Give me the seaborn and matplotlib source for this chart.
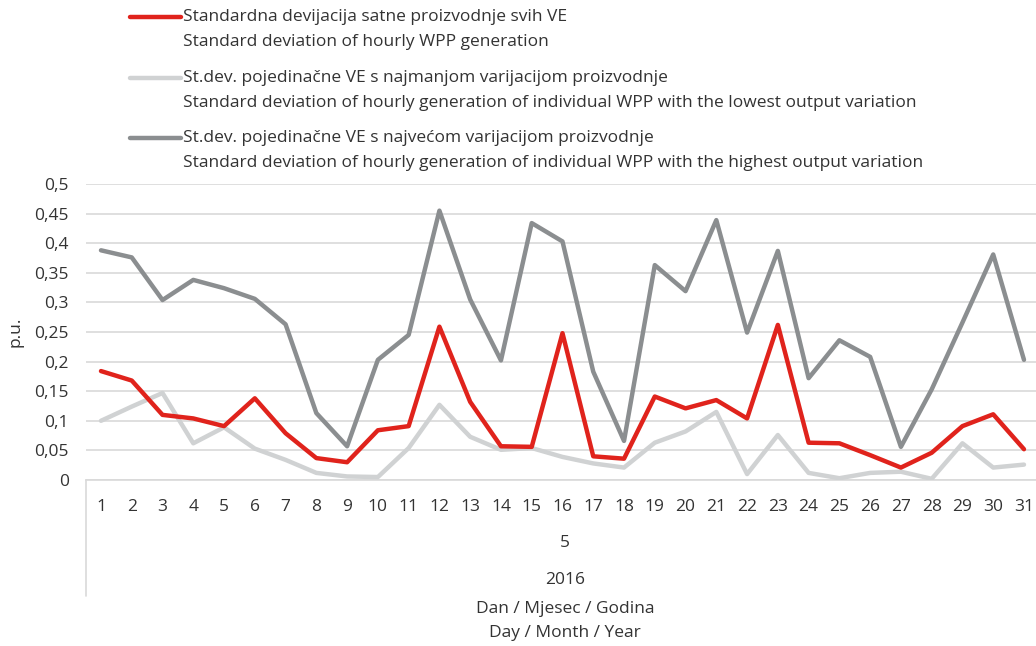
import matplotlib
matplotlib.use("Agg")
import matplotlib.pyplot as plt
from matplotlib import font_manager
from matplotlib.lines import Line2D
import seaborn as sns
import pandas as pd

days = list(range(1, 32))
all_wpp = [0.184, 0.168, 0.110, 0.104, 0.091, 0.138, 0.079, 0.037, 0.030, 0.084,
           0.091, 0.259, 0.132, 0.057, 0.056, 0.248, 0.040, 0.036, 0.141, 0.121,
           0.135, 0.104, 0.262, 0.063, 0.062, 0.042, 0.021, 0.046, 0.091, 0.111, 0.052]
lowest = [0.100, 0.124, 0.147, 0.062, 0.089, 0.053, 0.034, 0.012, 0.006, 0.005,
          0.054, 0.127, 0.073, 0.051, 0.054, 0.039, 0.028, 0.021, 0.063, 0.082,
          0.115, 0.010, 0.076, 0.012, 0.003, 0.012, 0.014, 0.002, 0.062, 0.021, 0.026]
highest = [0.388, 0.376, 0.304, 0.338, 0.324, 0.306, 0.263, 0.113, 0.057, 0.203,
           0.245, 0.455, 0.305, 0.202, 0.434, 0.403, 0.183, 0.066, 0.363, 0.319,
           0.439, 0.249, 0.387, 0.172, 0.236, 0.208, 0.056, 0.153, 0.266, 0.381, 0.203]
yticks = [0, 0.05, 0.1, 0.15, 0.2, 0.25, 0.3, 0.35, 0.4, 0.45, 0.5]
ytick_labels = ["0", "0,05", "0,1", "0,15", "0,2", "0,25", "0,3", "0,35", "0,4", "0,45", "0,5"]
labels = [
    ("Standardna devijacija satne proizvodnje svih VE",
     "Standard deviation of hourly WPP generation"),
    ("St.dev. pojedinačne VE s najmanjom varijacijom proizvodnje",
     "Standard deviation of hourly generation of individual WPP with the lowest output variation"),
    ("St.dev. pojedinačne VE s najvećom varijacijom proizvodnje",
     "Standard deviation of hourly generation of individual WPP with the highest output variation"),
]
month_label = "5"
year_label = "2016"
axis_title = ["Dan / Mjesec / Godina", "Day / Month / Year"]

RED = "#E0231C"
LIGHT = "#D0D2D3"
DARK = "#8B8E90"

sns.set_theme(style="white")
avail = {f.name for f in font_manager.fontManager.ttflist}
fam = "Liberation Sans Narrow" if "Liberation Sans Narrow" in avail else "Open Sans"
plt.rcParams["font.family"] = [fam, "DejaVu Sans"]

W, H = 1036, 646
fig = plt.figure(figsize=(W / 100, H / 100), dpi=100)
x0 = 85.6
ax = fig.add_axes([x0 / W, (H - 480) / H, 1 - x0 / W, (480 - 184) / H])

df = pd.DataFrame({"day": days, "all": all_wpp, "low": lowest, "high": highest})
sns.lineplot(data=df, x="day", y="high", ax=ax, color=DARK, linewidth=3.2, zorder=3)
sns.lineplot(data=df, x="day", y="low", ax=ax, color=LIGHT, linewidth=3.2, zorder=4)
sns.lineplot(data=df, x="day", y="all", ax=ax, color=RED, linewidth=3.2, zorder=5)

spacing = (1024 - 101) / 30
ax.set_xlim(0.5, 0.5 + (W - x0) / spacing)
ax.set_ylim(0, 0.5)
ax.set_yticks(yticks)
ax.set_yticklabels(ytick_labels)
ax.set_xticks(days)
ax.set_xticklabels([str(d) for d in days])
ax.tick_params(axis="both", length=0, labelsize=12.5, colors="#333333")
ax.tick_params(axis="x", pad=14)
ax.tick_params(axis="y", pad=12)
ax.grid(axis="y", color="#D9D9D9", linewidth=1.2)
ax.set_axisbelow(True)
for s in ["top", "right", "left"]:
    ax.spines[s].set_visible(False)
ax.spines["bottom"].set_color("#D9D9D9")
ax.spines["bottom"].set_linewidth(1.2)
ax.set_xlabel("")
ax.set_ylabel("p.u.", fontsize=12.5, color="#333333", labelpad=8)

# left border of the multi-level category axis
fig.add_artist(Line2D([x0 / W, x0 / W], [(H - 480) / H, (H - 596) / H],
                      transform=fig.transFigure, color="#D9D9D9", linewidth=1.2))

cx = 565 / W
fig.text(cx, (H - 543) / H, month_label, ha="center", va="center", fontsize=12.5, color="#333333")
fig.text(cx, (H - 580) / H, year_label, ha="center", va="center", fontsize=12.5, color="#333333")
fig.text(cx, (H - 609) / H, axis_title[0], ha="center", va="center", fontsize=12.5, color="#333333")
fig.text(cx, (H - 633) / H, axis_title[1], ha="center", va="center", fontsize=12.5, color="#333333")

# legend
leg_y = [17, 78, 138]
for (l1, l2), col, y in zip(labels, [RED, LIGHT, DARK], leg_y):
    fig.add_artist(Line2D([130 / W, 181 / W], [(H - y) / H, (H - y) / H],
                          transform=fig.transFigure, color=col, linewidth=3.2))
    fig.text(183 / W, (H - y) / H, l1, ha="left", va="center", fontsize=12.5, color="#333333")
    fig.text(183 / W, (H - y - 25) / H, l2, ha="left", va="center", fontsize=12.5, color="#333333")

fig.savefig("out.png", dpi=100)
